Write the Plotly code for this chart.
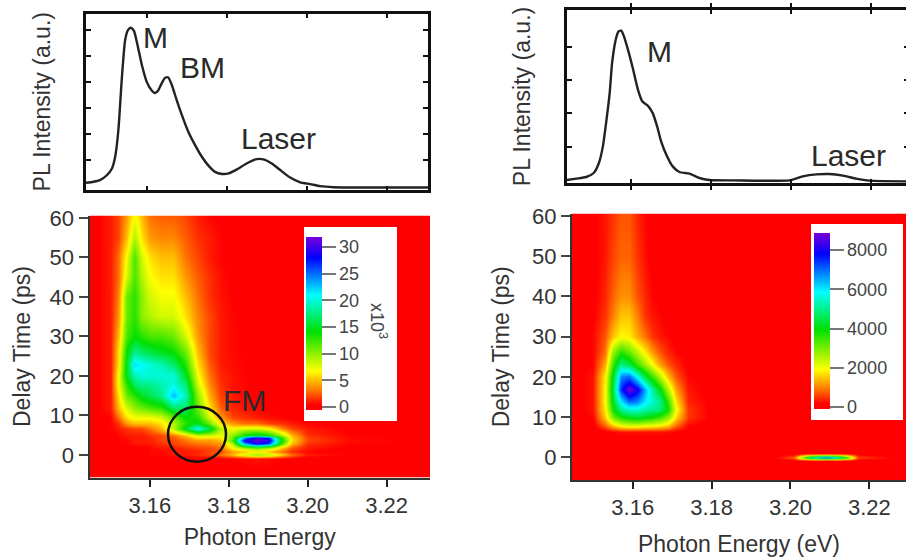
import plotly.graph_objects as go

W, H = 906, 559

# ---- top spectra ----
left_E = [3.1447,3.1466,3.1482,3.1499,3.1512,3.1520,3.1528,3.1537,3.1545,3.1552,3.1559,3.1567,3.1576,3.1587,3.1599,3.1612,3.1620,3.1628,3.1637,3.1645,3.1653,3.1662,3.1674,3.1687,3.1703,3.1720,3.1737,3.1754,3.1770,3.1787,3.1804,3.1824,3.1849,3.1875,3.1891,3.1912,3.1933,3.1958,3.1983,3.2008,3.2033,3.2066,3.2150,3.2303]
left_I = [.13,.17,.23,.42,.68,1.13,2.15,4.21,5.62,6.0,6.09,5.97,5.42,4.65,4.01,3.67,3.58,3.69,3.97,4.17,4.18,3.88,3.31,2.73,2.09,1.58,1.13,.78,.55,.47,.49,.64,.87,1.04,1.03,.87,.62,.33,.15,.08,0,-.04,-.05,-.05]
right_E = [3.1439,3.1462,3.1487,3.1506,3.1519,3.1529,3.1537,3.1546,3.1552,3.1561,3.1568,3.1575,3.1582,3.1592,3.1604,3.1617,3.1628,3.1642,3.1654,3.1665,3.1675,3.1688,3.1704,3.1721,3.1746,3.1771,3.1796,3.1855,3.1997,3.2030,3.2064,3.2097,3.2131,3.2164,3.2197,3.2289]
right_I = [0,.04,.09,.21,.51,1.01,1.71,2.61,3.51,4.21,4.46,4.49,4.31,3.91,3.36,2.71,2.36,2.23,2.01,1.61,1.16,.76,.41,.24,.19,.06,0,-.01,-.01,.11,.17,.18,.13,.04,-.02,-.04]

# ---- left map (x10^3 counts) ----
map_left_x = [3.145,3.150,3.152,3.154,3.156,3.158,3.160,3.163,3.166,3.169,3.172,3.175,3.178,3.181,3.184,3.187,3.190,3.193,3.196,3.200,3.210,3.231]
map_left_y = [-6,-0.8,0.2,1.0,2,2.9,3.6,4.3,5,6.8,8,9.5,12,15,18,20,23,26,30,35,40,45,50,55,60.6]
map_left_z = [
 [0]*22,
 [0,0,0,0,0,0,0,0,0,0,0,0.2,0.3,0.5,0.7,0.8,0.7,0.5,0.3,0.1,0,0],
 [0,0,0,0,0,0,0.5,0.5,1,1,1.5,2,3,5,8,10,9,6,3,1,0.5,0],
 [0,0,0,0,0,0,0.5,0.5,1,1,1,2,2,4,5,6,5,3,1.5,0.5,0,0],
 [0,0,0,0,0,0,0.5,1,1,1.5,2,2,3,7,10,12,10,6,2.5,1,0.3,0],
 [0,0,0.5,0.5,1,1,1,1.5,2,2.5,3,3.5,4,9,23,29,26,13,5,1.5,0.5,0.2],
 [0,0,0.5,0.5,1,1,1,2,2,3,4,4,5,12,29,31,30,15,6,2,0.7,0.3],
 [0,0,0.5,0.7,1,1,1.2,2,2.5,4,6,6,6,11,24,30,27,14,5.5,2,0.6,0.3],
 [0,0,0.5,1,1,1,1.5,2,3,5,8,8,7,10,14,16,14,10,5,1.5,0.5,0.2],
 [0,0.5,1,1.5,2,2,3,5,9,15,21,16,9,7,8,8,7,4,2,1,0.3,0],
 [0,0.5,1.5,4,5,5,5,6,9,13,15,11,6,4,3,3,2,1.5,1,0.5,0.2,0],
 [0,0.5,3,6,7,7,7,8,11,14,13,8,4,2,1.5,1,0.7,0.5,0.3,0,0,0],
 [0,1,5,8,10,11,12,13,17,17,11,6,2.5,1.2,0.8,0.5,0.3,0.2,0,0,0,0],
 [0,1,6,11,13,15,16,18,23,19,10,4.5,1.8,1,0.5,0.4,0.2,0,0,0,0,0],
 [0,1,7,13,17,18,18,19,20,17,8,3.5,1.5,0.8,0.5,0.3,0.2,0,0,0,0,0],
 [0,1,7,15,19,20,20,20,20,15,7,3,1.3,0.8,0.5,0.3,0.1,0,0,0,0,0],
 [0,1,6,15,22,21,20,19,17,13,6,2.5,1,0.7,0.4,0.2,0,0,0,0,0,0],
 [0,1,6,14,18,17,16,15,14,11,5,2,1,0.6,0.4,0.2,0,0,0,0,0,0],
 [0,1,5,12,14,13,12,12,11,8,4,2,1,0.6,0.3,0.1,0,0,0,0,0,0],
 [0,1,4,11,13,10,9,8,8,6,3.5,2,1,0.5,0.3,0.1,0,0,0,0,0,0],
 [0,1,3.5,11,13,10,8,7,7,5,3,1.5,0.8,0.4,0.2,0,0,0,0,0,0,0],
 [0,1,3,8,12,9,7,6,6,4,2.5,1.5,0.7,0.3,0.1,0,0,0,0,0,0,0],
 [0,1,3,7,12,8,6,5,5,3,2,1,0.5,0.2,0,0,0,0,0,0,0,0],
 [0,1,2,5,9,6,4,3.5,3.5,2.5,1.5,1,0.5,0.2,0,0,0,0,0,0,0,0],
 [0,1,2,4,7,5,3,2.5,2.5,2,1,0.5,0.3,0.1,0,0,0,0,0,0,0,0],
]

# ---- right map (counts) ----
map_right_x = [3.144,3.150,3.153,3.155,3.157,3.159,3.161,3.163,3.165,3.167,3.169,3.171,3.174,3.180,3.195,3.201,3.205,3.209,3.213,3.217,3.230]
map_right_y = [-6,-0.8,0.1,0.9,5,6.5,8,10,12,14,17,20,23,26,30,35,40,50,60.7]
map_right_z = [
 [0]*21,
 [0]*21,
 [0,0,0,0,0,0,0,0,0,0,0,0,0,0,0,800,5000,7000,5000,600,0],
 [0,0,0,0,0,0,0,0,0,0,0,0,0,0,0,0,50,100,50,0,0],
 [0,0,50,100,100,100,100,100,100,100,80,50,30,0,0,0,0,0,0,0,0],
 [0,0,100,200,300,300,300,300,300,300,250,150,100,50,0,0,0,0,0,0,0],
 [0,100,800,1500,2000,2200,2200,2000,2000,1800,1500,800,200,100,0,0,0,0,0,0,0],
 [0,200,1500,3000,3700,4000,4200,4000,3800,3400,2800,1600,500,100,0,0,0,0,0,0,0],
 [0,300,1800,3800,5000,5500,5500,5200,5000,4800,3800,2000,500,100,0,0,0,0,0,0,0],
 [0,300,1900,4200,6000,7000,6800,6000,5500,5000,3500,1700,400,100,0,0,0,0,0,0,0],
 [0,300,1900,4500,7500,8800,8000,6500,5200,4000,2500,1200,300,50,0,0,0,0,0,0,0],
 [0,300,1800,4200,6800,7000,5800,4400,3500,2500,1400,700,200,50,0,0,0,0,0,0,0],
 [0,200,1300,3500,5000,4500,3500,2700,2000,1200,700,400,100,0,0,0,0,0,0,0,0],
 [0,200,900,2800,3700,3200,2500,1800,1200,700,400,200,100,0,0,0,0,0,0,0,0],
 [0,200,700,1500,1900,1800,1300,900,500,300,200,100,50,0,0,0,0,0,0,0,0],
 [0,150,500,1000,1500,1500,1000,500,300,200,100,50,0,0,0,0,0,0,0,0,0],
 [0,100,400,800,1100,1100,700,400,200,100,50,0,0,0,0,0,0,0,0,0,0],
 [0,100,300,600,800,800,500,250,100,50,0,0,0,0,0,0,0,0,0,0,0],
 [0,100,300,500,700,700,400,200,100,50,0,0,0,0,0,0,0,0,0,0,0],
]

energy_ticks = [3.16, 3.18, 3.20, 3.22]
energy_labels = ["3.16", "3.18", "3.20", "3.22"]
delay_ticks = [0, 10, 20, 30, 40, 50, 60]
rainbow = [[0,"#ff0000"],[0.03,"#ff0000"],[0.12,"#ff8000"],[0.225,"#ffff00"],[0.45,"#00e000"],
           [0.665,"#00ffff"],[0.88,"#0000ff"],[1,"#7a00d8"]]

FONT = "Liberation Sans"
INK = "#333333"

def dx(a, b): return [a / W, b / W]
def dy(top, bot): return [1 - bot / H, 1 - top / H]
def px(x): return x / W
def py(y): return 1 - y / H

fig = go.Figure()
fig.add_trace(go.Scatter(x=left_E, y=left_I, mode="lines", xaxis="x", yaxis="y", showlegend=False,
    line=dict(color="#222222", width=2.4, shape="spline", smoothing=0.6)))
fig.add_trace(go.Scatter(x=right_E, y=right_I, mode="lines", xaxis="x2", yaxis="y2", showlegend=False,
    line=dict(color="#222222", width=2.4, shape="spline", smoothing=0.6)))

def cbar(x, top, bot, tickvals):
    return dict(thicknessmode="pixels", thickness=16, lenmode="pixels", len=bot - top,
                x=px(x), xanchor="left", xpad=0, y=py(top), yanchor="top", ypad=0,
                outlinewidth=0, ticks="outside", ticklen=14, tickwidth=1.5, tickcolor="#777777",
                tickvals=tickvals, tickfont=dict(family=FONT, size=18, color="#444444"), bgcolor="rgba(0,0,0,0)")

fig.add_trace(go.Heatmap(x=map_left_x, y=map_left_y, z=map_left_z, xaxis="x3", yaxis="y3", zsmooth="best",
    colorscale=rainbow, zmin=-0.56, zmax=31.9,
    colorbar=cbar(306, 237, 410, [0,5,10,15,20,25,30])))
fig.add_trace(go.Heatmap(x=map_right_x, y=map_right_y, z=map_right_z, xaxis="x4", yaxis="y4", zsmooth="best",
    colorscale=rainbow, zmin=-100, zmax=8870,
    colorbar=cbar(814, 233, 409, [0,2000,4000,6000,8000])))
# carries the short tick marks on the cropped right edge of the upper right panel
fig.add_trace(go.Scatter(x=[None], y=[None], xaxis="x2", yaxis="y5", showlegend=False, hoverinfo="skip"))

tick_font = dict(family=FONT, size=22, color=INK)
title_font = dict(family=FONT, size=23, color=INK)

def top_x(domain, rng):
    return dict(domain=domain, range=rng, tickvals=energy_ticks, showticklabels=False, ticks="inside", ticklen=4,
                tickwidth=2, tickcolor="#111111", showline=True, linewidth=3, linecolor="#111111",
                mirror="allticks", showgrid=False, zeroline=False)

def top_y(domain, rng, vals, anchor, mirror, standoff):
    return dict(domain=domain, range=rng, tickvals=vals, showticklabels=False, ticks="inside", ticklen=5,
                tickwidth=2, tickcolor="#111111", showline=True, linewidth=3, linecolor="#111111",
                mirror=mirror, showgrid=False, zeroline=False, anchor=anchor,
                title=dict(text="PL Intensity (a.u.)", font=title_font, standoff=standoff))

def map_x(domain, rng, anchor, title, standoff):
    return dict(domain=domain, range=rng, anchor=anchor, tickvals=energy_ticks, ticktext=energy_labels,
                ticks="outside", ticklen=7, tickwidth=2, tickcolor="#222222", tickfont=tick_font,
                showline=True, linewidth=2, linecolor="#333333", showgrid=False, zeroline=False,
                title=dict(text=title, font=title_font, standoff=standoff))

def map_y(domain, rng, anchor, standoff):
    return dict(domain=domain, range=rng, anchor=anchor, tickvals=delay_ticks, ticks="outside", ticklen=9,
                tickwidth=2, tickcolor="#444444", tickfont=tick_font,
                showline=True, linewidth=2, linecolor="#333333", showgrid=False, zeroline=False,
                title=dict(text="Delay Time (ps)", font=title_font, standoff=standoff))

def note(text, x, y, xr, yr):
    return dict(text=text, x=x, y=y, xref=xr, yref=yr, showarrow=False, xanchor="center", yanchor="middle",
                font=dict(family=FONT, size=30, color="#2a2a2a"))

fig.update_layout(
    width=W, height=H, autosize=False, margin=dict(l=0, r=0, t=0, b=0, autoexpand=False),
    paper_bgcolor="white", plot_bgcolor="white", showlegend=False,
    xaxis=top_x(dx(86, 428), [3.1447, 3.2303]),
    yaxis=top_y(dy(14, 189.5), [-0.128, 6.62], [1,2,3,4,5,6], "x", "allticks", 26),
    xaxis2=dict(top_x(dx(567, 906), [3.1439, 3.2289]), anchor="y2"),
    yaxis2=top_y(dy(10, 183), [-0.09, 5.11], [1,2,3,4], "x2", False, 27),
    yaxis5=dict(domain=dy(10, 183), range=[-0.09, 5.11], overlaying="y2", side="right", anchor="x2",
                tickvals=[1,2,3,4], ticks="inside", ticklen=2, tickwidth=2, tickcolor="#111111",
                showticklabels=False, showline=False, showgrid=False, zeroline=False),
    xaxis3=map_x(dx(89.5, 430), [3.1447, 3.2310], "y3", "Photon Energy", 12),
    yaxis3=map_y(dy(215.5, 477.5), [-5.7, 60.6], "x3", 13),
    xaxis4=map_x(dx(572, 906), [3.1446, 3.2293], "y4", "Photon Energy (eV)", 16),
    yaxis4=map_y(dy(213.5, 480), [-5.6, 60.6], "x4", 16),
    shapes=[
        dict(type="rect", xref="paper", yref="paper", x0=px(304), x1=px(397), y0=py(421), y1=py(227),
             fillcolor="white", line=dict(width=0), layer="above"),
        dict(type="rect", xref="paper", yref="paper", x0=px(811), x1=px(903), y0=py(420), y1=py(224),
             fillcolor="white", line=dict(width=0), layer="above"),
        dict(type="circle", xref="x3", yref="y3", x0=3.1646, x1=3.1793, y0=-1.7, y1=12.2,
             line=dict(color="#111111", width=2.5), layer="above"),
    ],
    annotations=[
        note("M", 3.1620, 5.7, "x", "y"),
        note("BM", 3.1738, 4.55, "x", "y"),
        note("Laser", 3.1930, 1.85, "x", "y"),
        note("FM", 3.1840, 13.8, "x3", "y3"),
        note("M", 3.1672, 3.86, "x2", "y2"),
        note("Laser", 3.2145, 0.74, "x2", "y2"),
        dict(text="x10<sup>3</sup>", x=px(379), y=py(321), xref="paper", yref="paper", showarrow=False,
             textangle=90, xanchor="center", yanchor="middle", font=dict(family=FONT, size=18, color="#444444")),
    ],
)
fig.write_html("out.html", config=dict(displayModeBar=False), post_script=(
    "document.body.style.margin='0';"
    "var g=document.querySelector('.plotly-graph-div');"
    "g.style.position='fixed';g.style.left='0';g.style.top='0';"))
